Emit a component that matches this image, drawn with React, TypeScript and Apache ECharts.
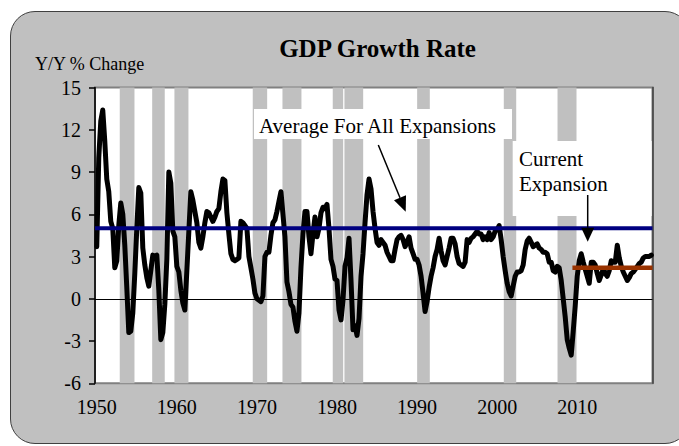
import React, { useEffect, useRef } from "react";
import * as echarts from "echarts";

// Real GDP, year-over-year % change, quarterly from 1950 Q1
const firstQuarter = 1950.0;
const gdpYoY: number[] = [
  3.7, 10.0, 12.6, 13.4, // 1950
  11.2, 8.5, 7.6, 5.5, // 1951
  5.0, 2.2, 2.7, 5.2, // 1952
  6.8, 6.0, 3.8, 0.8, // 1953
  -2.4, -2.3, -1.0, 1.8, // 1954
  5.0, 7.9, 7.5, 3.6, // 1955
  2.4, 1.5, 0.9, 2.0, // 1956
  3.1, 3.0, 3.1, 0.6, // 1957
  -2.9, -2.4, -0.4, 2.8, // 1958
  9.0, 8.2, 4.8, 4.4, // 1959
  2.3, 1.9, 0.6, -0.3, // 1960
  -0.8, 2.0, 4.8, 7.6, // 1961
  7.0, 6.2, 5.4, 4.0, // 1962
  3.6, 4.4, 5.4, 6.2, // 1963
  6.1, 5.8, 5.5, 5.8, // 1964
  6.2, 6.4, 7.6, 8.5, // 1965
  8.4, 6.1, 4.6, 3.2, // 1966
  2.8, 2.7, 2.8, 2.9, // 1967
  5.5, 5.4, 5.2, 5.0, // 1968
  3.0, 2.2, 1.4, 0.4, // 1969
  0.0, -0.1, -0.2, 0.2, // 1970
  3.0, 3.3, 3.3, 4.5, // 1971
  5.4, 5.6, 6.2, 6.9, // 1972
  7.6, 6.0, 4.4, 1.2, // 1973
  0.5, -0.4, -0.6, -1.6, // 1974
  -2.3, -1.0, 2.2, 4.6, // 1975
  6.2, 6.2, 4.4, 3.2, // 1976
  4.6, 5.8, 4.4, 5.0, // 1977
  6.1, 6.5, 6.4, 6.7, // 1978
  5.0, 2.8, 2.3, 1.4, // 1979
  1.3, -0.8, -1.5, -0.1, // 1980
  2.3, 2.9, 4.3, 1.3, // 1981
  -2.2, -1.9, -2.6, -1.4, // 1982
  1.6, 3.2, 5.4, 7.4, // 1983
  8.5, 7.8, 6.2, 5.0, // 1984
  4.0, 3.8, 4.2, 4.0, // 1985
  3.8, 3.3, 3.0, 2.7, // 1986
  2.7, 3.5, 4.2, 4.4, // 1987
  4.5, 4.2, 3.7, 4.0, // 1988
  4.4, 3.6, 3.2, 2.8, // 1989
  2.8, 2.4, 1.6, 0.4, // 1990
  -0.9, -0.2, 0.8, 1.6, // 1991
  2.2, 3.0, 3.5, 4.3, // 1992
  3.4, 2.7, 2.4, 3.0, // 1993
  3.6, 4.3, 4.3, 3.9, // 1994
  3.0, 2.5, 2.4, 2.3, // 1995
  2.6, 4.2, 4.0, 4.3, // 1996
  4.4, 4.6, 4.8, 4.6, // 1997
  4.6, 4.2, 4.4, 4.2, // 1998
  4.7, 4.2, 4.4, 4.8, // 1999
  4.9, 5.2, 4.2, 3.0, // 2000
  2.0, 1.1, 0.5, 0.2, // 2001
  0.9, 1.6, 1.9, 1.9, // 2002
  2.0, 2.4, 3.5, 4.1, // 2003
  4.3, 4.0, 3.7, 3.8, // 2004
  3.9, 3.6, 3.5, 3.3, // 2005
  3.3, 3.2, 2.6, 2.6, // 2006
  2.0, 1.9, 2.3, 2.2, // 2007
  1.3, 0.0, -1.3, -2.9, // 2008
  -3.5, -4.0, -2.3, -0.5, // 2009
  1.6, 2.7, 3.2, 2.6, // 2010
  2.1, 1.6, 1.1, 2.6, // 2011
  2.6, 2.4, 1.8, 1.3, // 2012
  1.7, 2.1, 1.8, 1.6, // 2013
  2.0, 2.7, 2.6, 2.6, // 2014
  3.8, 2.9, 2.3, 1.9, // 2015
  1.6, 1.3, 1.5, 1.8, // 2016
  1.9, 2.1, 2.3, 2.5, // 2017
  2.6, 2.9, 3.0, 3.0, // 2018
  3.0, 3.1, // 2019
];

// Recession shading (start, end) in years
const recessionStarts = [1952.87, 1956.92, 1959.7, 1969.48, 1973.19, 1979.47, 1980.93, 1990.01, 2000.83, 2007.54];
const recessionEnds = [1954.71, 1958.49, 1961.45, 1971.28, 1975.56, 1980.77, 1983.27, 1991.59, 2002.38, 2009.91];

// Averages
const avgAllExpansions = 5.0;
const avgCurrentExpansion = 2.2;
const currentExpansionStart = 2009.4;

// Axes
const xMin = 1949.78;
const xMax = 2019.4;
const xTickYears = [1950, 1960, 1970, 1980, 1990, 2000, 2010];
const yMin = -6;
const yMax = 15;
const yStep = 3;

const FONT = "'Liberation Serif', 'Times New Roman', serif";

function arrow(x1: number, y1: number, x2: number, y2: number, headLen: number, halfW: number) {
  const dx = x2 - x1;
  const dy = y2 - y1;
  const len = Math.sqrt(dx * dx + dy * dy);
  const ux = dx / len;
  const uy = dy / len;
  const bx = x2 - ux * headLen;
  const by = y2 - uy * headLen;
  const px = -uy * halfW;
  const py = ux * halfW;
  return [
    { type: "line", z: 20, shape: { x1, y1, x2: bx, y2: by }, style: { stroke: "#000", lineWidth: 1.5 } },
    {
      type: "polygon",
      z: 20,
      shape: { points: [[x2, y2], [bx + px, by + py], [bx - px, by - py]] },
      style: { fill: "#000" },
    },
  ];
}

export default function App() {
  const ref = useRef<HTMLDivElement>(null);

  useEffect(() => {
    if (!ref.current) return;
    const chart = echarts.init(ref.current, undefined, { renderer: "svg" });

    const gdpData = gdpYoY.map((v, i) => [firstQuarter + i * 0.25, v]);
    const recessionAreas = recessionStarts.map((s, i) => [{ xAxis: s }, { xAxis: recessionEnds[i] }]);

    const option: any = {
      animation: false,
      backgroundColor: "transparent",
      grid: {
        left: 95,
        top: 87.5,
        right: 26.5,
        bottom: 62.7,
        show: true,
        backgroundColor: "#ffffff",
        borderColor: "#808080",
        borderWidth: 2,
      },
      xAxis: {
        type: "value",
        min: xMin,
        max: xMax,
        axisLine: { show: false },
        axisTick: { show: false },
        splitLine: { show: false },
        axisLabel: {
          customValues: xTickYears,
          color: "#000",
          fontFamily: FONT,
          fontSize: 20,
          margin: 14,
          formatter: (v: number) => String(Math.round(v)),
        },
      },
      yAxis: [
        {
          type: "value",
          min: yMin,
          max: yMax,
          interval: yStep,
          axisLine: { show: true, lineStyle: { color: "#000", width: 1.5 } },
          axisTick: { show: true, length: 6, lineStyle: { color: "#000", width: 1.5 } },
          splitLine: { show: false },
          axisLabel: { color: "#000", fontFamily: FONT, fontSize: 20, margin: 14 },
        },
        {
          type: "value",
          position: "right",
          min: yMin,
          max: yMax,
          interval: yStep,
          axisLine: { show: true, lineStyle: { color: "#404040", width: 1.5 } },
          axisTick: { show: false },
          axisLabel: { show: false },
          splitLine: { show: false },
        },
      ],
      series: [
        {
          type: "line",
          z: 1,
          data: [],
          silent: true,
          markArea: {
            silent: true,
            itemStyle: { color: "#c0c0c0", opacity: 1 },
            data: recessionAreas,
          },
          markLine: {
            silent: true,
            symbol: "none",
            label: { show: false },
            lineStyle: { color: "#000", width: 1, type: "solid" },
            data: [{ yAxis: 0 }],
          },
        },
        {
          name: "GDP",
          type: "line",
          z: 3,
          data: gdpData,
          showSymbol: false,
          symbol: "none",
          lineStyle: { color: "#000", width: 5, join: "round", cap: "round" },
        },
        {
          name: "Average For All Expansions",
          type: "line",
          z: 4,
          data: [
            [xMin, avgAllExpansions],
            [xMax, avgAllExpansions],
          ],
          symbol: "none",
          lineStyle: { color: "#000080", width: 4 },
        },
        {
          name: "Current Expansion",
          type: "line",
          z: 4,
          data: [
            [currentExpansionStart, avgCurrentExpansion],
            [xMax, avgCurrentExpansion],
          ],
          symbol: "none",
          lineStyle: { color: "#993300", width: 4.5 },
        },
      ],
      graphic: [
        {
          type: "text",
          z: 20,
          x: 377.5,
          y: 48.3,
          style: {
            text: "GDP Growth Rate",
            font: `bold 25px ${FONT}`,
            fill: "#000",
            textAlign: "center",
            textVerticalAlign: "middle",
          },
        },
        {
          type: "text",
          z: 20,
          x: 35,
          y: 64.2,
          style: {
            text: "Y/Y % Change",
            font: `18px ${FONT}`,
            fill: "#000",
            textAlign: "left",
            textVerticalAlign: "middle",
          },
        },
        {
          type: "rect",
          z: 10,
          shape: { x: 254, y: 109, width: 258, height: 30 },
          style: { fill: "#ffffff" },
        },
        {
          type: "text",
          z: 20,
          x: 259,
          y: 126.3,
          style: {
            text: "Average For All Expansions",
            font: `21px ${FONT}`,
            fill: "#000",
            textAlign: "left",
            textVerticalAlign: "middle",
          },
        },
        {
          type: "rect",
          z: 10,
          shape: { x: 512.7, y: 141, width: 139, height: 75 },
          style: { fill: "#ffffff" },
        },
        {
          type: "text",
          z: 20,
          x: 519,
          y: 158.7,
          style: {
            text: "Current",
            font: `21px ${FONT}`,
            fill: "#000",
            textAlign: "left",
            textVerticalAlign: "middle",
          },
        },
        {
          type: "text",
          z: 20,
          x: 519,
          y: 183.7,
          style: {
            text: "Expansion",
            font: `21px ${FONT}`,
            fill: "#000",
            textAlign: "left",
            textVerticalAlign: "middle",
          },
        },
        ...arrow(378.3, 145, 405.7, 211.7, 15, 6.5),
        ...arrow(587.7, 195, 587.7, 241.7, 14, 6.5),
      ],
    };

    chart.setOption(option);
    return () => chart.dispose();
  }, []);

  return (
    <div style={{ position: "fixed", left: 0, top: 0, width: 679, height: 446, background: "#ffffff", overflow: "hidden" }}>
      <div
        style={{
          position: "absolute",
          left: 10,
          top: 11,
          width: 680,
          height: 433,
          background: "#c0c0c0",
          border: "1.5px solid #404040",
          borderRadius: 25,
          boxSizing: "border-box",
        }}
      />
      <div ref={ref} style={{ position: "absolute", left: 0, top: 0, width: 679, height: 446 }} />
    </div>
  );
}
